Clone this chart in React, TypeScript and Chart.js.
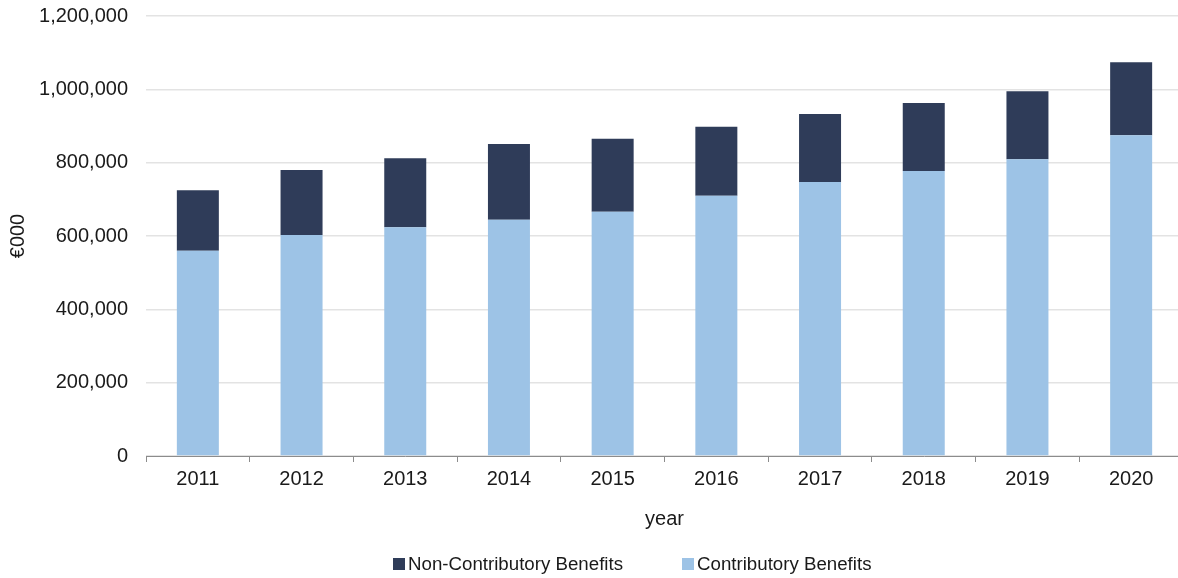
import React, { useEffect, useRef } from "react";
import { Chart, registerables } from "chart.js";

Chart.register(...registerables);

const years = ["2011", "2012", "2013", "2014", "2015", "2016", "2017", "2018", "2019", "2020"];
const contributory = [560000, 603000, 624000, 644000, 666000, 710000, 747000, 777000, 809000, 875000];
const nonContributory = [165000, 177000, 188000, 207000, 199000, 188000, 186000, 186000, 186000, 199000];
const seriesNames = ["Contributory Benefits", "Non-Contributory Benefits"];
const seriesColors = ["#9DC3E6", "#2F3C59"];
const yTicks = [0, 200000, 400000, 600000, 800000, 1000000, 1200000];

const FONT = '"Liberation Sans", Arial, sans-serif';

export default function App() {
  const ref = useRef<HTMLCanvasElement | null>(null);

  useEffect(() => {
    if (!ref.current) return;
    const chart = new Chart(ref.current, {
      type: "bar",
      data: {
        labels: years,
        datasets: [
          {
            label: seriesNames[0],
            data: contributory,
            backgroundColor: seriesColors[0],
            borderWidth: 0,
          },
          {
            label: seriesNames[1],
            data: nonContributory,
            backgroundColor: seriesColors[1],
            borderWidth: 0,
          },
        ],
      },
      options: {
        animation: false,
        responsive: true,
        maintainAspectRatio: false,
        layout: { padding: { top: 16, right: 7, bottom: 47, left: 0 } },
        datasets: { bar: { categoryPercentage: 1, barPercentage: 0.405 } },
        plugins: {
          legend: { display: false },
          tooltip: { enabled: false },
        },
        scales: {
          x: {
            stacked: true,
            offset: true,
            grid: {
              display: true,
              offset: true,
              drawOnChartArea: false,
              drawTicks: true,
              tickLength: 6,
              color: "#8c8c8c",
            },
            border: { display: true, color: "#8c8c8c", width: 1 },
            ticks: { color: "#1a1a1a", font: { family: FONT, size: 20 }, padding: 5, maxRotation: 0 },
            title: { display: true, text: "year", color: "#1a1a1a", font: { family: FONT, size: 20 }, padding: 0 },
            afterFit: (s: any) => {
              s.height = 75;
            },
          },
          y: {
            stacked: true,
            min: 0,
            max: 1200000,
            afterBuildTicks: (s: any) => {
              s.ticks = yTicks.map((v) => ({ value: v }));
            },
            grid: {
              color: "#e3e3e3",
              lineWidth: 1.5,
              drawTicks: true,
              tickLength: 18,
              tickColor: "rgba(0,0,0,0)",
            },
            border: { display: false },
            ticks: {
              color: "#1a1a1a",
              font: { family: FONT, size: 20 },
              padding: 0,
              callback: (v: any) => Number(v).toLocaleString("en-US"),
            },
            title: {
              display: true,
              text: "€000",
              color: "#1a1a1a",
              font: { family: FONT, size: 20 },
              padding: { top: 6, bottom: 0 },
            },
            afterFit: (s: any) => {
              s.width = 146;
            },
          },
        },
      },
    });
    return () => chart.destroy();
  }, []);

  const legendItems = [
    { name: seriesNames[1], color: seriesColors[1], left: 393 },
    { name: seriesNames[0], color: seriesColors[0], left: 682 },
  ];

  return (
    <div style={{ position: "fixed", left: 0, top: 0, width: 1178, height: 578, overflow: "hidden", background: "#fff" }}>
      <div style={{ position: "absolute", left: 0, top: 0, width: 1190, height: 578 }}>
        <canvas ref={ref} />
      </div>
      {legendItems.map((it) => (
        <div
          key={it.name}
          style={{
            position: "absolute",
            left: it.left,
            top: 552,
            height: 24,
            display: "flex",
            alignItems: "center",
            fontFamily: FONT,
            fontSize: 18.7,
            color: "#1a1a1a",
            whiteSpace: "nowrap",
          }}
        >
          <span style={{ display: "inline-block", width: 12, height: 12, background: it.color, marginRight: 3 }} />
          <span>{it.name}</span>
        </div>
      ))}
    </div>
  );
}
